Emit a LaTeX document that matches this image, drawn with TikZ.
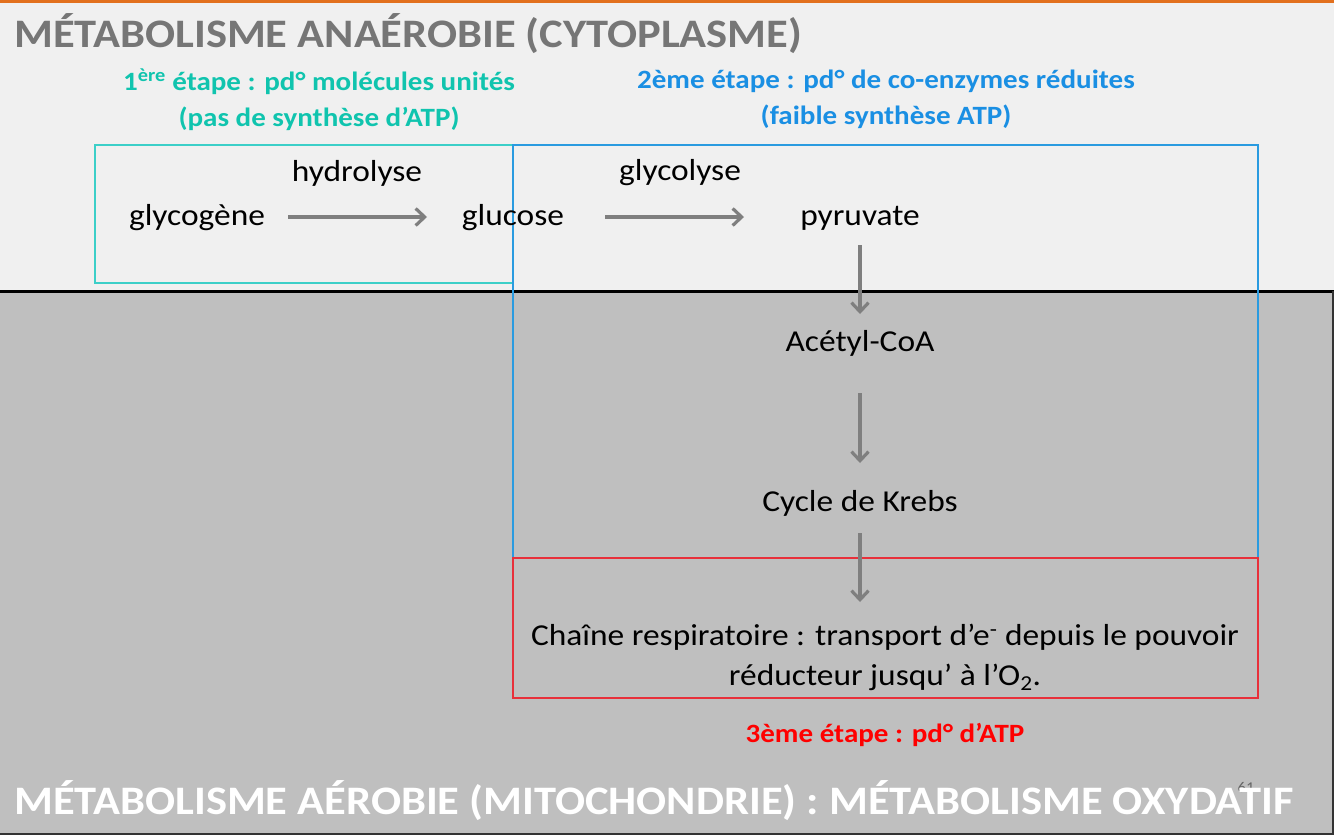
\documentclass[tikz,border=0pt]{standalone}
\usepackage{fontspec}
\setmainfont{Carlito}[FakeStretch=1.1]
\usetikzlibrary{arrows.meta}
\definecolor{topbg}{HTML}{F0F0F0}
\definecolor{botbg}{HTML}{BFBFBF}
\definecolor{titlegray}{HTML}{767676}
\definecolor{stepone}{HTML}{10C4AE}
\definecolor{steptwo}{HTML}{1A8FE3}
\definecolor{stepthree}{HTML}{FF0000}
\definecolor{boxone}{HTML}{3CCFC8}
\definecolor{boxtwo}{HTML}{2A9BE0}
\definecolor{boxthree}{HTML}{E8303A}
\definecolor{arrowgray}{HTML}{7F7F7F}
\definecolor{topline}{HTML}{E2701E}
\tikzset{
  body/.style={font=\fontsize{30.5}{40}\selectfont, text=black, inner sep=0pt},
  steplabel/.style={font=\bfseries\fontsize{26.5}{36}\selectfont, align=center, inner sep=0pt},
  bigtitle/.style={font=\bfseries\fontsize{40.6}{44}\selectfont, inner sep=0pt, anchor=west},
  flow/.style={draw=arrowgray, line width=3.2bp, -{Straight Barb[length=9bp,width=17bp,line width=3.2bp]}},
  framebox/.style={line width=1.2bp}
}
\begin{document}
\begin{tikzpicture}[x=1bp,y=-1bp]
\useasboundingbox (0,0) rectangle (1334,835);
% backgrounds
\fill[topbg] (0,0) rectangle (1334,291);
\fill[botbg] (0,291) rectangle (1334,835);
\fill[topline] (0,0) rectangle (1334,3);
\draw[black, line width=3.5bp] (0,291.5) -- (1334,291.5);
\draw[black!80, line width=2bp] (0,834) -- (1334,834);
\draw[black!80, line width=2bp] (1333,291) -- (1333,835);

% frames
\draw[framebox, boxone] (95,145) rectangle (513,283);
\draw[framebox, boxtwo] (513,145) rectangle (1258,558);
\draw[framebox, boxthree] (513,558) rectangle (1258,698);

% titles
\node[bigtitle, text=titlegray] (ttop) at (14,34) {MÉTABOLISME ANAÉROBIE (CYTOPLASME)};
\node[steplabel, text=stepone] (s1) at (319,100) {1\textsuperscript{ère} étape : pd° molécules unités\\(pas de synthèse d’ATP)};
\node[steplabel, text=steptwo] (s2) at (886,99) {2ème étape : pd° de co-enzymes réduites\\(faible synthèse ATP)};

% flow nodes
\node[body] (glycogene) at (197,218) {glycogène};
\node[body] (glucose) at (513,218) {glucose};
\node[body] (pyruvate) at (860,218) {pyruvate};
\node[body] (acetyl) at (860,343) {Acétyl-CoA};
\node[body] (krebs) at (860,503) {Cycle de Krebs};
\node[body, align=center] (chaine) at (885,657) {Chaîne respiratoire : transport d’e\textsuperscript{-} depuis le pouvoir\\réducteur jusqu’ à l’O\textsubscript{2}.};
\node[body] (hydro) at (357,173) {hydrolyse};
\node[body] (glyco) at (680,173) {glycolyse};

% arrow anchor coordinates
\coordinate (a1s) at (288,217); \coordinate (a1e) at (427,217);
\coordinate (a2s) at (605,217); \coordinate (a2e) at (744,217);
\coordinate (a3s) at (860,245); \coordinate (a3e) at (860,314);
\coordinate (a4s) at (860,393); \coordinate (a4e) at (860,463);
\coordinate (a5s) at (860,533); \coordinate (a5e) at (860,602);
\draw[flow] (a1s) -- (a1e);
\draw[flow] (a2s) -- (a2e);
\draw[flow] (a3s) -- (a3e);
\draw[flow] (a4s) -- (a4e);
\draw[flow] (a5s) -- (a5e);

\node[steplabel, text=stepthree] (s3) at (885,735) {3ème étape : pd° d’ATP};

% page number and bottom title
\node[font=\fontsize{15}{15}\selectfont, text=black!60, inner sep=0pt] (page) at (1246,787) {61};
\node[bigtitle, text=white] (tbot) at (14,801) {MÉTABOLISME AÉROBIE (MITOCHONDRIE) : MÉTABOLISME OXYDATIF};
\end{tikzpicture}
\end{document}
